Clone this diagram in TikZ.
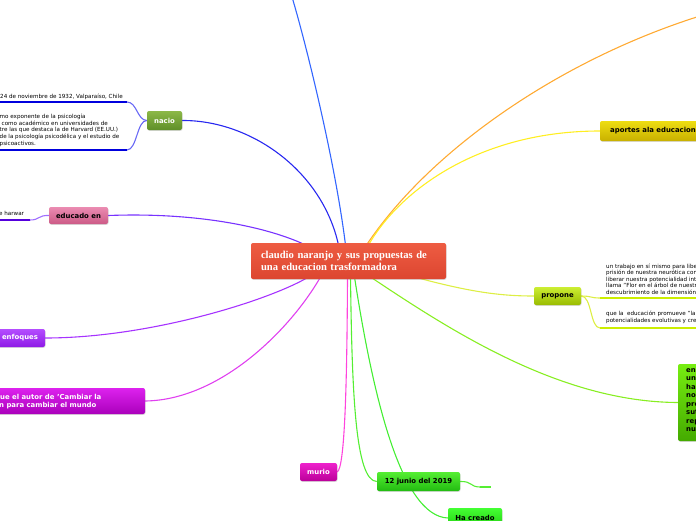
\documentclass[tikz,border=0pt]{standalone}
\usepackage{fontspec}
\setmainfont{DejaVu Sans}
\newfontfamily\serifb{Liberation Serif}
\usetikzlibrary{shadows,backgrounds,calc}
\definecolor{cTop}{HTML}{EE5C42}\definecolor{cBot}{HTML}{DC4630}
\definecolor{nTop}{HTML}{8CB848}\definecolor{nBot}{HTML}{5F8F28}
\definecolor{eTop}{HTML}{EB8CB2}\definecolor{eBot}{HTML}{CC5A86}
\definecolor{fTop}{HTML}{B44DFF}\definecolor{fBot}{HTML}{8E1AE6}
\definecolor{aTop}{HTML}{DD22EE}\definecolor{aBot}{HTML}{AA00BB}
\definecolor{mTop}{HTML}{EE22CC}\definecolor{mBot}{HTML}{BB0099}
\definecolor{dTop}{HTML}{55EE33}\definecolor{dBot}{HTML}{22BB11}
\definecolor{hTop}{HTML}{44FF33}\definecolor{hBot}{HTML}{22CC11}
\definecolor{gTop}{HTML}{77EE11}\definecolor{gBot}{HTML}{44AA00}
\definecolor{pTop}{HTML}{CCEE33}\definecolor{pBot}{HTML}{99BB00}
\definecolor{yTop}{HTML}{EEDD11}\definecolor{yBot}{HTML}{C8B000}
\definecolor{lBlue}{HTML}{3366FF}\definecolor{lNacio}{HTML}{2828F0}\definecolor{uNacio}{HTML}{0000DD}
\definecolor{lEdu}{HTML}{7832FF}\definecolor{uEdu}{HTML}{5500DD}
\definecolor{lEnf}{HTML}{A633FF}\definecolor{lAut}{HTML}{E040F0}\definecolor{lMur}{HTML}{FF44DD}
\definecolor{lFec}{HTML}{55EE33}\definecolor{lHa}{HTML}{44EE33}\definecolor{lBig}{HTML}{88EE22}
\definecolor{lPro}{HTML}{DDEE44}\definecolor{uPro}{HTML}{CCEE00}
\definecolor{lApo}{HTML}{FFEE22}\definecolor{lOra}{HTML}{FFAA33}
\tikzset{
  box/.style={rounded corners=2pt, inner sep=0pt, font=\fontsize{6.9}{8}\selectfont\bfseries,
    drop shadow={opacity=0.3,shadow xshift=0.5pt,shadow yshift=-0.8pt}},
  link/.style={line width=1.1pt},
  under/.style={line width=2.4pt},
  small/.style={font=\fontsize{5.6}{6.6}\selectfont, inner sep=0pt, align=left, anchor=north west},
  boxtext/.style={font=\fontsize{6.9}{8.5}\selectfont\bfseries, inner sep=0pt, align=left, anchor=north west},
}
\begin{document}
\begin{tikzpicture}[x=1pt,y=-1pt]
\useasboundingbox (0,0) rectangle (696,520);
\clip (0,0) rectangle (696,520);

% central node
\node[box, minimum width=195pt, minimum height=36pt, text width=175pt, inner xsep=10pt, align=left,
  top color=cTop, bottom color=cBot, text=white, font=\serifb\fontsize{10.6}{12}\selectfont\bfseries]
  (c) at (348.5,261) {claudio naranjo y sus propuestas de\\una educacion trasformadora};

% branch nodes
\node[box, minimum width=35pt, minimum height=19pt, top color=nTop, bottom color=nBot, text=white] (nacio) at (164.5,120.5) {nacio};
\node[box, minimum width=59pt, minimum height=17pt, top color=eTop, bottom color=eBot, text=black] (educado) at (78.5,215.5) {educado en};
\node[box, minimum width=50pt, minimum height=18pt, top color=fTop, bottom color=fBot, text=white] (enfoques) at (20,338) {enfoques};
\node[box, minimum width=205pt, minimum height=26pt, top color=aTop, bottom color=aBot] (autor) at (42.5,401) {};
\node[boxtext, text=white] (autor1) at (-5,394) {que el autor de 'Cambiar la};
\node[boxtext, text=white] (autor2) at (-1,402.2) {n para cambiar el mundo};
\node[box, minimum width=37pt, minimum height=18pt, top color=mTop, bottom color=mBot, text=white] (murio) at (318.5,472) {murio};
\node[box, minimum width=83pt, minimum height=19pt, top color=dTop, bottom color=dBot, text=black] (fecha) at (418.5,481.5) {12 junio del 2019};
\node[box, minimum width=54pt, minimum height=20pt, top color=hTop, bottom color=hBot, text=black] (hacreado) at (475,518) {Ha creado};
\node[box, minimum width=82pt, minimum height=77pt, top color=gTop, bottom color=gBot] (big) at (719,402.5) {};
\node[boxtext, text=black] (bigtext) at (686,368) {en\\un\\ha\\no\\pro\\sut\\rep\\nu};
\node[box, minimum width=47pt, minimum height=18pt, top color=pTop, bottom color=pBot, text=black] (propone) at (557.5,296) {propone};
\node[box, minimum width=106pt, minimum height=20pt, top color=yTop, bottom color=yBot, text=black] (aportes) at (653,131) {aportes ala educacion};

% small texts
\node[small, anchor=base west] (t24) at (0,98) {24 de noviembre de 1932, Valparaíso, Chile};
\node[small] (tnacio) at (-0.5,114) {mo exponente de la psicología\\\hspace*{2pt}como académico en universidades de\\tre las que destaca la de Harvard (EE.UU.)\\de la psicología psicodélica y el estudio de\\psicoactivos.};
\node[small, anchor=base west] (tedu) at (-1,215.5) {e harwar};
\node[small] (tpro1) at (606,263.5) {un trabajo en sí mismo para libe\\prisión de nuestra neurótica com\\liberar nuestra potencialidad inte\\llama "Flor en el árbol de nuestr\\descubrimiento de la dimensión};
\node[small] (tpro2) at (606,311) {que la \ educación promueve "la l\\potencialidades evolutivas y crea};

% free ends
\coordinate (topB) at (292,-3);
\coordinate (oT) at (700,16);
\coordinate (n1) at (127,102); \coordinate (n1e) at (-5,102);
\coordinate (n2) at (127,150); \coordinate (n2e) at (-5,150);
\coordinate (e1) at (30,220); \coordinate (e1e) at (-5,220);
\coordinate (p1) at (600,298); \coordinate (p1e) at (700,298);
\coordinate (p2) at (600,328); \coordinate (p2e) at (700,328);
\coordinate (fr) at (480,487); \coordinate (fre) at (491,487);

\begin{scope}[on background layer]
\draw[link, lBlue] ($(c.center)+(-3,-16)$) .. controls (335,160) and (305,40) .. (topB);
\draw[link, lNacio] (nacio.east) .. controls (250,120) and (322,170) .. ($(c.center)+(-10,-16)$);
\draw[link, lOra] ($(c.center)+(18,-16)$) .. controls (430,150) and (560,60) .. (oT);
\draw[link, lApo] (aportes.west) .. controls (480,131) and (400,190) .. ($(c.center)+(20,-16)$);
\draw[link, lEdu] (educado.east) .. controls (200,212) and (270,228) .. ($(c.center)+(-43,-16)$);
\draw[link, lEnf] (enfoques.east) .. controls (150,338) and (270,300) .. ($(c.center)+(-40,16)$);
\draw[link, lAut] (autor.east) .. controls (220,400) and (290,330) .. ($(c.center)+(-28,16)$);
\draw[link, lMur] ($(c.center)+(-1,16)$) .. controls (347,380) and (345,468) .. (murio.east);
\draw[link, lFec] ($(c.center)+(2,16)$) .. controls (352,390) and (355,481) .. (fecha.west);
\draw[link, lHa] ($(c.center)+(6,16)$) .. controls (372,390) and (400,516) .. (hacreado.west);
\draw[link, lBig] ($(c.center)+(22,16)$) .. controls (450,330) and (560,402) .. (big.west);
\draw[link, lPro] ($(c.center)+(66,16)$) .. controls (470,292) and (500,296) .. (propone.west);
% sub branches
\draw[link, lNacio!70] (nacio.west) .. controls (137,120) and (137,102) .. (n1);
\draw[link, lNacio!70] (nacio.west) .. controls (137,120) and (137,150) .. (n2);
\draw[under, uNacio] (n1) -- (n1e);
\draw[under, uNacio] (n2) -- (n2e);
\draw[link, lEdu!70] (educado.west) .. controls (38,215) and (40,220) .. (e1);
\draw[under, uEdu] (e1) -- (e1e);
\draw[link, lPro] (propone.east) .. controls (592,296) and (590,298) .. (p1);
\draw[link, lPro] (propone.east) .. controls (592,296) and (590,328) .. (p2);
\draw[under, uPro] (p1) -- (p1e);
\draw[under, uPro] (p2) -- (p2e);
\draw[link, lFec] (fecha.east) .. controls (472,481) and (470,487) .. (fr);
\draw[under, lFec] (fr) -- (fre);
\end{scope}
\end{tikzpicture}
\end{document}
